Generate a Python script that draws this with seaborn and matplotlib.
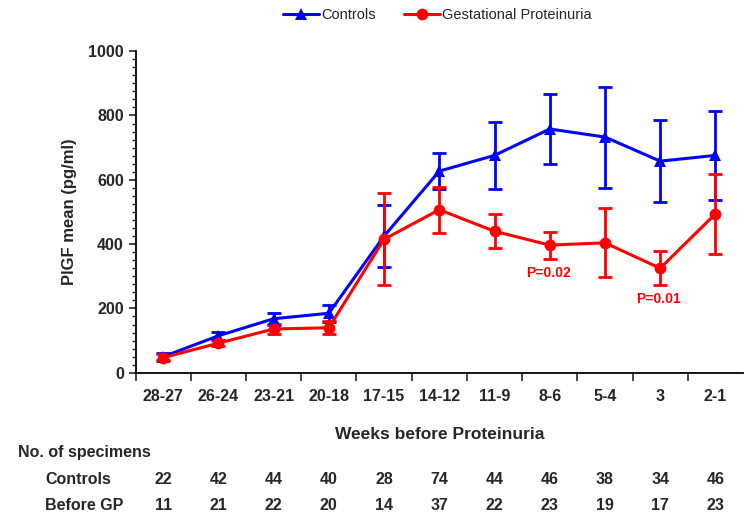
import matplotlib
matplotlib.use("Agg")
import matplotlib.pyplot as plt
import matplotlib.transforms as mtransforms
from matplotlib.ticker import MultipleLocator
import seaborn as sns
import pandas as pd
import numpy as np

# ---- data ----
weeks = ["28-27", "26-24", "23-21", "20-18", "17-15", "14-12",
         "11-9", "8-6", "5-4", "3", "2-1"]
controls_mean = [50, 115, 168, 185, 425, 627, 676, 758, 733, 658, 676]
controls_err = [10, 12, 18, 26, 97, 56, 104, 110, 157, 127, 138]
gp_mean = [47, 92, 136, 140, 415, 507, 440, 397, 404, 325, 494]
gp_err = [10, 10, 15, 20, 143, 72, 53, 42, 107, 53, 124]
n_controls = [22, 42, 44, 40, 28, 74, 44, 46, 38, 34, 46]
n_gp = [11, 21, 22, 20, 14, 37, 22, 23, 19, 17, 23]
p_labels = {7: "P=0.02", 9: "P=0.01"}

BLUE = "#0000ff"
RED = "#ff0000"

sns.set_theme(style="ticks")
plt.rcParams["font.family"] = ["Liberation Sans", "DejaVu Sans"]
plt.rcParams["font.weight"] = "bold"

pos = np.arange(len(weeks))
df = pd.DataFrame({
    "pos": np.concatenate([pos, pos]),
    "mean": controls_mean + gp_mean,
    "group": ["Controls"] * len(weeks) + ["Gestational Proteinuria"] * len(weeks),
})

fig = plt.figure(figsize=(7.49, 5.17), dpi=100)
ax = fig.add_axes([0.181, 0.279, 0.811, 0.622])

sns.lineplot(data=df, x="pos", y="mean", hue="group", style="group",
             palette={"Controls": BLUE, "Gestational Proteinuria": RED},
             markers={"Controls": "^", "Gestational Proteinuria": "o"},
             dashes=False, markersize=8.5, markeredgewidth=0, linewidth=2.2,
             ax=ax, legend=False, zorder=3)

ax.errorbar(pos, controls_mean, yerr=controls_err, fmt="none", ecolor=BLUE,
            elinewidth=2, capsize=5, capthick=2, zorder=2)
ax.errorbar(pos, gp_mean, yerr=gp_err, fmt="none", ecolor=RED,
            elinewidth=2, capsize=5, capthick=2, zorder=2)

for i, txt in p_labels.items():
    ax.annotate(txt, (pos[i], gp_mean[i] - gp_err[i]), xytext=(-1, -5),
                textcoords="offset points", ha="center", va="top",
                color=RED, fontsize=10, fontweight="bold")

ax.set_xlim(-0.5, len(weeks) - 0.5)
ax.set_ylim(0, 1000)
ax.yaxis.set_major_locator(MultipleLocator(200))
ax.yaxis.set_minor_locator(MultipleLocator(25))
ax.tick_params(axis="y", which="major", length=5, width=1.2, labelsize=11.5)
ax.tick_params(axis="y", which="minor", length=3, width=1)

ax.set_xticks(np.arange(-0.5, len(weeks) - 0.5, 1.0))
ax.set_xticklabels([])
ax.set_xticks(pos, minor=True)
ax.set_xticklabels(weeks, minor=True, fontsize=11.5, fontweight="bold")
ax.tick_params(axis="x", which="major", length=6, width=1.2)
ax.tick_params(axis="x", which="minor", length=0, pad=12)

for lbl in ax.get_yticklabels():
    lbl.set_fontweight("bold")

sns.despine(ax=ax)
for s in ["left", "bottom"]:
    ax.spines[s].set_linewidth(1.3)
    ax.spines[s].set_color("black")

ax.set_xlabel("Weeks before Proteinuria", fontsize=12.5, fontweight="bold",
              labelpad=16)
ax.set_ylabel("PlGF mean (pg/ml)", fontsize=12, fontweight="bold", labelpad=8)

# specimen counts table under the axis
trans = mtransforms.blended_transform_factory(ax.transData, fig.transFigure)
fig.text(0.024, 1 - 453 / 517, "No. of specimens", fontsize=11.5,
         fontweight="bold", va="center")
fig.text(0.06, 1 - 479 / 517, "Controls", fontsize=11.5,
         fontweight="bold", va="center")
fig.text(0.06, 1 - 505 / 517, "Before GP", fontsize=11.5,
         fontweight="bold", va="center")
for i in range(len(weeks)):
    fig.text(pos[i], 1 - 479 / 517, str(n_controls[i]), transform=trans,
             ha="center", va="center", fontsize=11.5, fontweight="bold")
    fig.text(pos[i], 1 - 505 / 517, str(n_gp[i]), transform=trans,
             ha="center", va="center", fontsize=11.5, fontweight="bold")

# legend at the top
handles = [
    plt.Line2D([], [], color=BLUE, marker="^", markersize=8.5, lw=2.2,
               markeredgewidth=0, label="Controls"),
    plt.Line2D([], [], color=RED, marker="o", markersize=8.5, lw=2.2,
               markeredgewidth=0, label="Gestational Proteinuria"),
]
leg = fig.legend(handles=handles, loc="center", bbox_to_anchor=(0.584, 0.971),
                 ncol=2, frameon=False, fontsize=10.5, handlelength=2.5,
                 handletextpad=0.15, columnspacing=1.9)
for t in leg.get_texts():
    t.set_fontweight("normal")

fig.savefig("out.png", dpi=100)
